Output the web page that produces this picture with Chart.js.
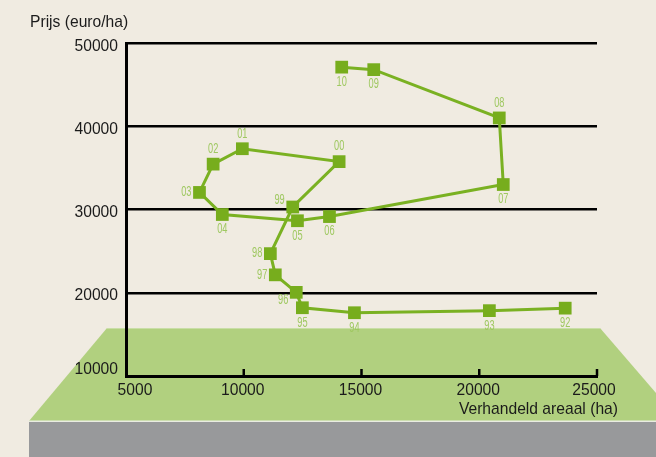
<!DOCTYPE html>
<html>
<head>
<meta charset="utf-8">
<script src="https://cdn.jsdelivr.net/npm/chart.js@4.4.1/dist/chart.umd.min.js"></script>
<style>
  html, body { margin: 0; padding: 0; background: #f0ebe1; }
  #wrap { width: 656px; height: 457px; position: relative; }
  canvas { display: block; }
</style>
</head>
<body>
<div id="wrap"><canvas id="chart" width="656" height="457"></canvas></div>
<script>
// Land market: traded area (ha) against price (euro/ha), 1992-2010
const years    = ['92', '93', '94', '95', '96', '97', '98', '99', '00', '01', '02', '03', '04', '05', '06', '07', '08', '09', '10'];
const areaHa   = [23650, 20430, 14700, 12490, 12230, 11340, 11130, 12080, 14050, 9940, 8700, 8120, 9090, 12280, 13640, 21020, 20850, 15520, 14160];
const priceEur = [18150, 17850, 17600, 18200, 20050, 22150, 24700, 30300, 35750, 37300, 35450, 32050, 29400, 28650, 29150, 33000, 41000, 46800, 47100];
// where each year label sits relative to its marker
const labelSide = ['below', 'below', 'below', 'below', 'belowLeft', 'left', 'left', 'aboveLeft', 'above', 'above', 'above', 'left', 'below', 'below', 'below', 'below', 'above', 'below', 'below'];

const xTicks = [5000, 10000, 15000, 20000, 25000];
const yTicks = [10000, 20000, 30000, 40000, 50000];

const GREEN = '#77ad1d';
const LABEL_GREEN = '#9fc861';
const INK = '#1b1b1b';
const SANS = '"Liberation Sans", Arial, sans-serif';

const points = areaHa.map((a, i) => ({ x: a, y: priceEur[i] }));

// text in a narrowed face: horizontal squeeze around the anchor point
function narrowText(ctx, text, x, y, align, squeeze) {
  ctx.save();
  ctx.translate(x, y);
  ctx.scale(squeeze, 1);
  ctx.textAlign = align;
  ctx.fillText(text, 0, 0);
  ctx.restore();
}

// field and ground behind the plot
const scenery = {
  id: 'scenery',
  beforeDraw(chart) {
    const ctx = chart.ctx;
    ctx.save();
    ctx.fillStyle = '#f0ebe1';
    ctx.fillRect(0, 0, chart.width, chart.height);
    ctx.fillStyle = '#b1d07f';
    ctx.beginPath();
    ctx.moveTo(107, 328);
    ctx.lineTo(600, 328);
    ctx.lineTo(680, 421);
    ctx.lineTo(29, 421);
    ctx.closePath();
    ctx.fill();
    ctx.strokeStyle = '#c9dea6';
    ctx.lineWidth = 1;
    ctx.beginPath();
    ctx.moveTo(107, 328.5);
    ctx.lineTo(600, 328.5);
    ctx.stroke();
    ctx.fillStyle = '#e9ece1';
    ctx.fillRect(29, 420.5, chart.width - 29, 1.5);
    ctx.fillStyle = '#98999b';
    ctx.fillRect(29, 422, chart.width - 29, 35);
    ctx.restore();
  }
};

// tick labels, axis titles, inward x tick marks and year labels
const annotations = {
  id: 'annotations',
  afterDatasetsDraw(chart) {
    const ctx = chart.ctx;
    const xs = chart.scales.x, ys = chart.scales.y;
    ctx.save();
    // small upward ticks on the x axis
    ctx.strokeStyle = '#000';
    ctx.lineWidth = 2.5;
    const base = ys.getPixelForValue(ys.min);
    xs.ticks.slice(1).forEach(t => {
      const px = xs.getPixelForValue(t.value);
      ctx.beginPath();
      ctx.moveTo(px, base);
      ctx.lineTo(px, base - 7);
      ctx.stroke();
    });
    ctx.fillStyle = INK;
    ctx.font = '17px ' + SANS;
    ctx.textBaseline = 'middle';
    // y tick labels (the lowest lifted clear of the x labels)
    ys.ticks.forEach((t, i) => {
      const py = ys.getPixelForValue(t.value) + (i === 0 ? -7 : 3);
      narrowText(ctx, String(t.value), 118, py, 'right', 0.92);
    });
    // x tick labels (the first nudged clear of the y axis)
    xs.ticks.forEach((t, i) => {
      const px = xs.getPixelForValue(t.value) + (i === 0 ? 9 : (i === xs.ticks.length - 1 ? -3 : -1));
      narrowText(ctx, String(t.value), px, base + 14, 'center', 0.92);
    });
    // axis titles
    narrowText(ctx, 'Prijs (euro/ha)', 30, 22, 'left', 0.92);
    narrowText(ctx, 'Verhandeld areaal (ha)', 618, 409, 'right', 0.92);
    // year labels
    const meta = chart.getDatasetMeta(0);
    ctx.fillStyle = LABEL_GREEN;
    ctx.font = '14px ' + SANS;
    meta.data.forEach((el, i) => {
      let dx = 0, dy = 0, align = 'center';
      switch (labelSide[i]) {
        case 'below': dy = 15; break;
        case 'above': dy = -15; break;
        case 'left': dx = -8; align = 'right'; break;
        case 'belowLeft': dx = -8; dy = 8; align = 'right'; break;
        case 'aboveLeft': dx = -8; dy = -7; align = 'right'; break;
      }
      narrowText(ctx, years[i], el.x + dx, el.y + dy, align, 0.66);
    });
    ctx.restore();
  }
};

new Chart(document.getElementById('chart'), {
  type: 'scatter',
  data: {
    datasets: [{
      data: points,
      showLine: true,
      borderColor: '#7ab122',
      borderWidth: 3,
      backgroundColor: GREEN,
      pointStyle: 'rect',
      pointRadius: 9,
      pointBorderWidth: 0,
      pointHoverRadius: 9,
      tension: 0
    }]
  },
  options: {
    responsive: false,
    animation: false,
    events: [],
    layout: { padding: { left: 0, right: 59, top: 43, bottom: 0 } },
    plugins: { legend: { display: false }, tooltip: { enabled: false } },
    scales: {
      x: {
        type: 'linear',
        min: 5000, max: 25000,
        afterBuildTicks: s => { s.ticks = xTicks.map(v => ({ value: v })); },
        afterFit: s => { s.height = 81; },
        grid: { display: true, drawOnChartArea: false, drawTicks: false },
        border: { display: true, color: '#000', width: 3 },
        ticks: { display: false }
      },
      y: {
        type: 'linear',
        min: 10000, max: 50000,
        afterBuildTicks: s => { s.ticks = yTicks.map(v => ({ value: v })); },
        afterFit: s => { s.width = 126; },
        grid: { color: '#000', lineWidth: 2.5, drawTicks: false },
        border: { display: true, color: '#000', width: 3 },
        ticks: { display: false }
      }
    }
  },
  plugins: [scenery, annotations]
});
</script>
</body>
</html>
